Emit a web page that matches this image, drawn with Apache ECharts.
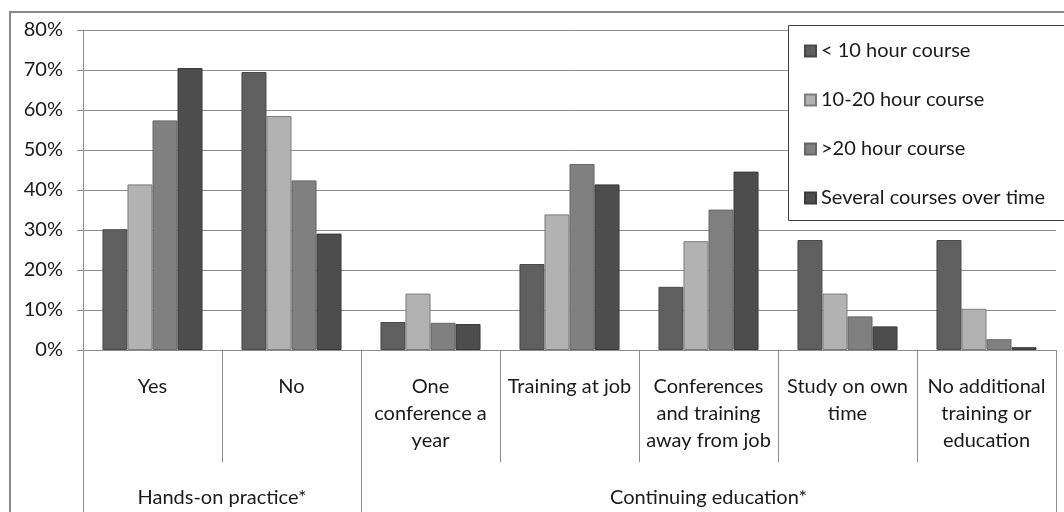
<!DOCTYPE html>
<html>
<head>
<meta charset="utf-8">
<script src="https://cdn.jsdelivr.net/npm/echarts@6/dist/echarts.min.js"></script>
<style>
html,body{margin:0;padding:0;background:#fff;}
#c{width:1064px;height:512px;}
</style>
</head>
<body>
<div id="c"></div>
<script>
var categories = ['Yes', 'No', 'One\nconference a\nyear', 'Training at job', 'Conferences\nand training\naway from job', 'Study on own\ntime', 'No additional\ntraining or\neducation'];
var groups = ['Hands-on practice*', 'Continuing education*'];
var groupSizes = [2, 5];
var seriesNames = ['< 10 hour course', '10-20 hour course', '>20 hour course', 'Several courses over time'];
var under10 = [30.2, 69.5, 7.0, 21.5, 15.8, 27.5, 27.5];
var h10to20 = [41.4, 58.5, 14.1, 33.9, 27.2, 14.1, 10.3];
var over20 = [57.4, 42.4, 6.8, 46.5, 35.1, 8.4, 2.7];
var several = [70.5, 29.1, 6.5, 41.4, 44.6, 5.9, 0.7];
var yTicks = [0, 10, 20, 30, 40, 50, 60, 70, 80];

var colors = ['#5f5f5f', '#b2b2b2', '#808080', '#4d4d4d'];
var borders = ['#4a4a4a', '#7c7c7c', '#666666', '#3a3a3a'];
var seriesData = [under10, h10to20, over20, several];

// second-level axis: half-category points
var nCat = categories.length;
var groupAxisData = [];
for (var i = 0; i <= nCat * 2; i++) groupAxisData.push('');
var boundaries = [0];
var acc = 0;
for (var g = 0; g < groups.length; g++) {
  groupAxisData[acc * 2 + groupSizes[g]] = groups[g];
  acc += groupSizes[g];
  boundaries.push(acc * 2);
}

var FONT = 'Lato';
var TXT = '#1a1a1a';
var GRAY = '#8c8c8c';

var chart = echarts.init(document.getElementById('c'), null, {renderer: 'canvas'});
chart.setOption({
  animation: false,
  backgroundColor: '#ffffff',
  textStyle: {fontFamily: FONT},
  grid: {left: 83, right: 8, top: 30, bottom: 162, containLabel: false},
  legend: {
    orient: 'vertical',
    left: 804,
    top: 41,
    padding: 0,
    itemGap: 29,
    itemWidth: 11,
    itemHeight: 11,
    icon: 'rect',
    z: 10,
    textStyle: {fontFamily: FONT, fontSize: 20, color: TXT, lineHeight: 20},
    data: seriesNames
  },
  graphic: [
    {type: 'rect', z: 100, silent: true, shape: {x: 10, y: 12, width: 1100, height: 600},
     style: {fill: 'none', stroke: '#888888', lineWidth: 2}},
    {type: 'rect', z: 3, silent: true, shape: {x: 788.5, y: 25.5, width: 300, height: 195},
     style: {fill: '#ffffff', stroke: '#404040', lineWidth: 1}}
  ],
  xAxis: [
    {
      type: 'category',
      data: categories,
      position: 'bottom',
      axisLine: {show: true, lineStyle: {color: GRAY, width: 1}},
      axisTick: {show: true, length: 112, alignWithLabel: false, lineStyle: {color: GRAY}},
      axisLabel: {interval: 0, margin: 23, fontFamily: FONT, fontSize: 20, lineHeight: 27, color: TXT, align: 'center'},
      splitLine: {show: false}
    },
    {
      type: 'category',
      data: groupAxisData,
      position: 'bottom',
      boundaryGap: false,
      axisLine: {show: false},
      axisTick: {show: true, length: 180, interval: function (idx) { return boundaries.indexOf(idx) >= 0; }, lineStyle: {color: GRAY}},
      axisLabel: {interval: 0, margin: 134, fontFamily: FONT, fontSize: 20, lineHeight: 27, color: TXT},
      splitLine: {show: false}
    }
  ],
  yAxis: {
    type: 'value',
    min: yTicks[0],
    max: yTicks[yTicks.length - 1],
    interval: yTicks[1] - yTicks[0],
    axisLine: {show: true, lineStyle: {color: GRAY}},
    axisTick: {show: true, length: 6, lineStyle: {color: GRAY}},
    axisLabel: {formatter: '{value}%', margin: 20, fontFamily: FONT, fontSize: 20, color: TXT},
    splitLine: {show: true, lineStyle: {color: GRAY, width: 1}}
  },
  series: seriesNames.map(function (name, i) {
    return {
      name: name,
      type: 'bar',
      xAxisIndex: 0,
      data: seriesData[i],
      barGap: '0%',
      barCategoryGap: '28%',
      itemStyle: {color: colors[i], borderColor: borders[i], borderWidth: 1},
      emphasis: {disabled: true}
    };
  })
});
</script>
</body>
</html>
